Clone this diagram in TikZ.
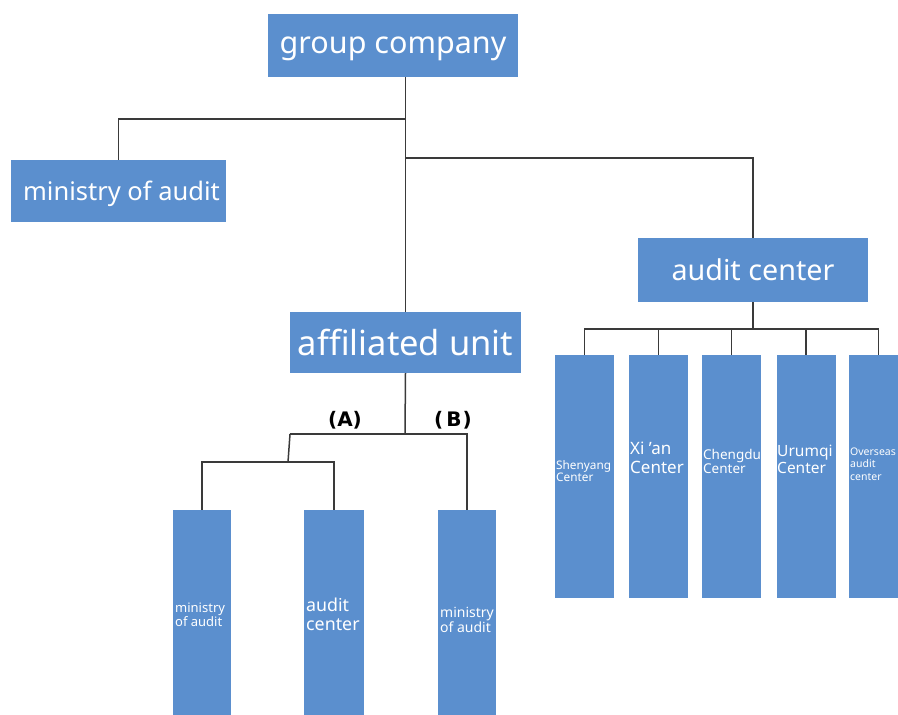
\documentclass[tikz,border=0pt]{standalone}
\usepackage{fontspec}
\setmainfont{Noto Sans}
\newfontfamily\tagfont{DejaVu Sans}
\definecolor{boxblue}{HTML}{5B8FCE}
\definecolor{linegray}{HTML}{3A3A3A}
\begin{document}
\begin{tikzpicture}[x=1pt,y=-1pt,
  box/.style={fill=boxblue, draw=none, inner sep=0pt, text=white, text depth=0pt},
  conn/.style={draw=linegray, line width=1.5pt},
  lbl/.style={text=white, inner sep=0pt, anchor=west, align=left},
  tag/.style={text=black, inner sep=0pt, font=\tagfont\bfseries\fontsize{20}{20}\selectfont}]
\useasboundingbox (0,0) rectangle (898,715);
\fill[white] (0,0) rectangle (898,715);

% top level
\node[box, minimum width=250, minimum height=63, font=\fontsize{30.5}{30}\selectfont] (gc) at (393,45.5) {group company};
\node[box, minimum width=215, minimum height=62, font=\fontsize{25.5}{26}\selectfont] (mo) at (118.5,191) {\hspace*{6pt}ministry of audit};
\node[box, minimum width=230, minimum height=64, font=\fontsize{28.7}{28}\selectfont] (ac) at (753,270) {audit center};
\node[box, minimum width=231, minimum height=61, font=\fontsize{34.5}{34}\selectfont] (au) at (405.5,342.5) {affiliated unit};

% bottom-left boxes
\node[box, minimum width=58, minimum height=230] (b1) at (202,625) {};
\node[box, minimum width=60, minimum height=230] (b2) at (334,625) {};
\node[box, minimum width=58, minimum height=230] (b3) at (467,625) {};
\node[lbl, font=\fontsize{13}{13.5}\selectfont] (t1) at (175,615) {ministry\\of audit};
\node[lbl, font=\fontsize{17.8}{19}\selectfont] (t2) at (306,614) {audit\\center};
\node[lbl, font=\fontsize{14}{15}\selectfont] (t3) at (440,620) {ministry\\of audit};

% right boxes
\node[box, minimum width=59, minimum height=243] (r1) at (584.5,476.5) {};
\node[box, minimum width=59, minimum height=243] (r2) at (658.5,476.5) {};
\node[box, minimum width=59, minimum height=243] (r3) at (731.5,476.5) {};
\node[box, minimum width=59, minimum height=243] (r4) at (806,476.5) {};
\node[box, minimum width=59, minimum height=243] (r5) at (878.5,476.5) {};
\node[lbl, font=\fontsize{11.8}{12}\selectfont] (s1) at (556,471) {Shenyang\\Center};
\node[lbl, font=\fontsize{17}{19}\selectfont] (s2) at (630,458) {Xi 'an\\Center};
\node[lbl, font=\fontsize{13.5}{14}\selectfont] (s3) at (703,461) {Chengdu\\Center};
\node[lbl, font=\fontsize{15.5}{17}\selectfont] (s4) at (777,459) {Urumqi\\Center};
\node[lbl, font=\fontsize{10.5}{12.5}\selectfont] (s5) at (850,464) {Overseas\\audit\\center};

% labels
\node[tag] (la) at (345,420) {(A)};
\node[tag] (lb) at (453,420) {(\kern3pt B\kern1pt)};

% connectors
\coordinate (j1) at (405,119);
\coordinate (j2) at (405,158);
\draw[conn] (gc.south -| au.north) -- (au.north);
\draw[conn] (j1) -| (mo.north);
\draw[conn] (j2) -| (ac.north);

\coordinate (k1) at (405,434);
\coordinate (kA) at (290,434);
\coordinate (kA2) at (288,462);
\draw[conn] (au.south) -- (k1);
\draw[conn] (kA) -- (k1) -| (b3.north);
\draw[conn] (kA) -- (kA2);
\draw[conn] (b1.north) |- (kA2 |- 0,462) -| (b2.north);

\coordinate (m1) at (753,329);
\draw[conn] (ac.south) -- (m1);
\draw[conn] (r1.north) |- (m1) -| (r5.north);
\draw[conn] (r2.north) -- (r2.north |- m1);
\draw[conn] (r3.north) -- (r3.north |- m1);
\draw[conn] (r4.north) -- (r4.north |- m1);
\end{tikzpicture}
\end{document}
